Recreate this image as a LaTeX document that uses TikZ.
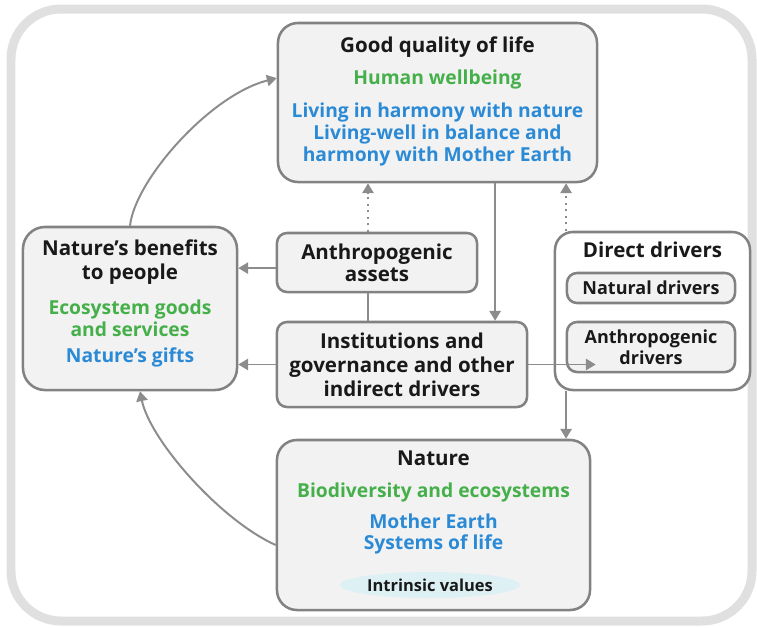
\documentclass[tikz,border=0pt]{standalone}
\usepackage{fontspec}
\setmainfont{Open Sans}
\usepackage{xcolor}
\usepackage{tikz}
\usetikzlibrary{arrows.meta,shapes.geometric}

\definecolor{boxgray}{HTML}{828282}
\definecolor{boxfill}{HTML}{F2F2F2}
\definecolor{arrgray}{HTML}{8C8C8C}
\definecolor{framegray}{HTML}{E0E0E0}
\definecolor{txtgreen}{HTML}{45B04A}
\definecolor{txtblue}{HTML}{2B8AD5}
\definecolor{valfill}{HTML}{DDF0F3}

\begin{document}
\begin{tikzpicture}[x=0.025cm,y=-0.025cm,
    box/.style={draw=boxgray,line width=1.8pt,fill=boxfill,rounded corners=0.25cm,inner sep=0,align=center,
      font=\fontsize{14.6}{17}\selectfont\bfseries,text=black!90},
    lbl/.style={inner sep=0,align=center,font=\fontsize{14.6}{17}\selectfont\bfseries,text=black!90},
    clbl/.style={inner sep=0,align=center,font=\fontsize{13.7}{15.4}\selectfont\bfseries},
    arr/.style={draw=arrgray,line width=1.4pt,-{Triangle[length=7pt,width=8pt]}}]
    \useasboundingbox (0,0) rectangle (757,627);
    % outer frame
    \draw[framegray,line width=6.4pt,rounded corners=1.25cm] (11,9) rectangle (752,621);

    % boxes
    \node[box,minimum width=7.975cm,minimum height=3.975cm,rounded corners=0.5cm] (life) at (437.5,102.5) {};
    \node[box,minimum width=5.35cm,minimum height=4.075cm,rounded corners=0.55cm] (benefits) at (130,308.5) {};
    \node[box,minimum width=5cm,minimum height=1.475cm,font=\fontsize{14.6}{15.8}\selectfont\bfseries] (assets) at (377,262.5) {Anthropogenic\\assets};
    \node[box,minimum width=6.25cm,minimum height=2.125cm] (inst) at (402,364.5) {Institutions and\\governance and other\\indirect drivers};
    \node[box,fill=white,minimum width=4.875cm,minimum height=3.95cm,rounded corners=0.45cm] (direct) at (652.5,311) {};
    \node[box,minimum width=4.2cm,minimum height=0.75cm,font=\fontsize{12.8}{15}\selectfont\bfseries] (natural) at (651,288) {Natural drivers};
    \node[box,minimum width=4.2cm,minimum height=1.25cm,font=\fontsize{12.8}{15}\selectfont\bfseries] (anthdrv) at (651,347) {Anthropogenic\\drivers};
    \node[box,minimum width=7.825cm,minimum height=4.25cm,rounded corners=0.5cm] (nature) at (433.5,525) {};
    \node[ellipse,fill=valfill,minimum width=4.5cm,minimum height=0.65cm,inner sep=0,
      font=\fontsize{11.7}{13}\selectfont\bfseries,text=black!90] (intr) at (430,585) {Intrinsic values};

    % texts
    \node[lbl] (lifeT) at (437.5,47) {Good quality of life};
    \node[clbl,text=txtgreen] (lifeG) at (437.5,79) {Human wellbeing};
    \node[clbl,text=txtblue] (lifeB) at (437.5,134.5) {Living in harmony with nature\\Living-well in balance and\\harmony with Mother Earth};
    \node[lbl] (benT) at (130,262) {Nature’s benefits\\to people};
    \node[clbl,text=txtgreen] (benG) at (130,318.5) {Ecosystem goods\\and services};
    \node[clbl,text=txtblue] (benB) at (130,357) {Nature’s gifts};
    \node[lbl] (dirT) at (652.5,250) {Direct drivers};
    \node[lbl] (natT) at (433.5,458) {Nature};
    \node[clbl,text=txtgreen] (natG) at (433.5,492) {Biodiversity and ecosystems};
    \node[clbl,text=txtblue] (natB) at (433.5,534) {Mother Earth\\Systems of life};

    % connectors
    \draw[arr] (benefits.north) .. controls (135,180) and (210,95) .. ([yshift=0.61cm]life.west);
    \draw[arr] ([yshift=-0.5cm]nature.west) .. controls (220,520) and (150,440) .. ([xshift=0.25cm]benefits.south);
    \draw[arr] ([yshift=-0.14cm]assets.west) coordinate (a2b) -- (a2b -| benefits.east);
    \draw[arr] (inst.west) -- (inst.west -| benefits.east);
    \draw[arrgray,line width=1.4pt] ([xshift=-0.225cm]assets.south) coordinate (a2i) -- (a2i |- inst.north);
    \draw[arr,dash pattern=on 1.4pt off 3.2pt] ([xshift=-0.225cm]assets.north) coordinate (a2l) -- (a2l |- life.south);
    \draw[arr] ([xshift=1.44cm]life.south) coordinate (l2i) -- (l2i |- inst.north);
    \draw[arr,dash pattern=on 1.4pt off 3.2pt] ([xshift=-2.16cm]direct.north) coordinate (d2l) -- (d2l |- life.south);
    \draw[arr] ([xshift=-2.16cm]direct.south) coordinate (d2n) -- (d2n |- nature.north);
    \path (inst.east -| anthdrv.west) coordinate (i2a);
    \draw[arr] (inst.east) -- ([xshift=0.75cm]i2a);
\end{tikzpicture}
\end{document}
